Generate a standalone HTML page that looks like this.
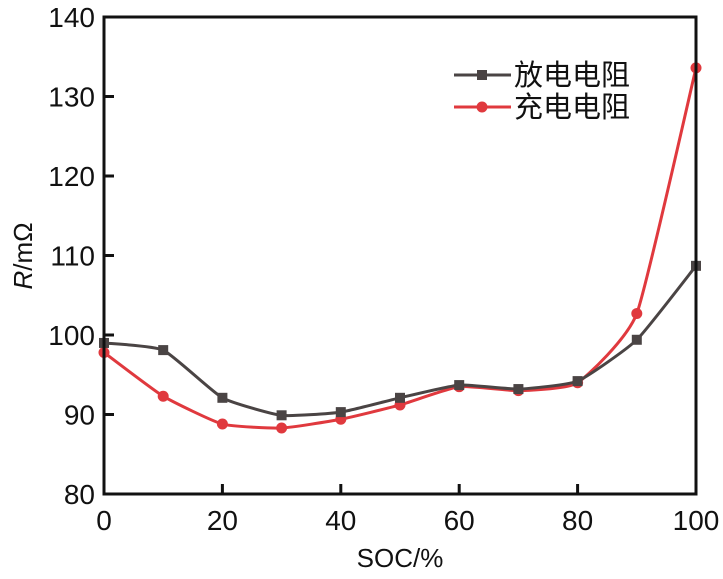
<!DOCTYPE html>
<html><head><meta charset="utf-8"><style>
body{margin:0;background:#fff}
svg text{font-family:"Liberation Sans",sans-serif}
</style></head><body>
<svg id="c" width="723" height="574" xmlns="http://www.w3.org/2000/svg"></svg>
<script>
const categories=[0,10,20,30,40,50,60,70,80,90,100];
const dischargeValues=[99,98.1,92.1,89.9,90.3,92.1,93.7,93.2,94.2,99.4,108.7];
const chargeValues=[97.8,92.3,88.8,88.3,89.4,91.2,93.5,93.0,94.0,102.7,133.6];
const xTicks=[0,20,40,60,80,100];
const yTicks=[80,90,100,110,120,130,140];
const L=104,R=696,T=17,B=494;
const xs=v=>L+(v-0)/100*(R-L);
const ys=v=>B-(v-80)/60*(B-T);
const svg=document.getElementById('c');
const NS='http://www.w3.org/2000/svg';
function mk(t,a,p){const e=document.createElementNS(NS,t);for(const k in a)e.setAttribute(k,a[k]);(p||svg).appendChild(e);return e;}
function path(pts){let d=`M${pts[0][0]},${pts[0][1]}`;for(let i=0;i<pts.length-1;i++){const p0=pts[Math.max(0,i-1)],p1=pts[i],p2=pts[i+1],p3=pts[Math.min(pts.length-1,i+2)];const t=0.08;d+=` C${p1[0]+(p2[0]-p0[0])*t},${p1[1]+(p2[1]-p0[1])*t} ${p2[0]-(p3[0]-p1[0])*t},${p2[1]-(p3[1]-p1[1])*t} ${p2[0]},${p2[1]}`;}return d;}
function series(vals,color,marker,name){
const g=mk('g',{});


const pts=categories.map((c,i)=>[xs(c),ys(vals[i])]);
const ln=mk('path',{d:path(pts),fill:'none',stroke:color,'stroke-width':3},g);


pts.forEach(p=>{let m;if(marker==='sq')m=mk('rect',{x:p[0]-5,y:p[1]-5,width:10,height:10,fill:color},g);else m=mk('circle',{cx:p[0],cy:p[1],r:5.5,fill:color},g);

});
}
series(chargeValues,'#e0393e','ci','charge-series');
series(dischargeValues,'#4a4444','sq','discharge-series');
const fr=mk('rect',{x:L,y:T,width:R-L,height:B-T,fill:'none',stroke:'#111','stroke-width':3});


xTicks.forEach(v=>{mk('line',{x1:xs(v),x2:xs(v),y1:B,y2:B-10,stroke:'#111','stroke-width':3});
const t=mk('text',{x:xs(v),y:530,'font-size':28,'text-anchor':'middle',fill:'#111'});t.textContent=v;

});
yTicks.forEach(v=>{mk('line',{x1:L,x2:L+10,y1:ys(v),y2:ys(v),stroke:'#111','stroke-width':3});
const t=mk('text',{x:95,y:ys(v)+10,'font-size':28,'text-anchor':'end',fill:'#111'});t.textContent=v;

});
const xt=mk('text',{x:400,y:567,'font-size':26,'text-anchor':'middle',fill:'#111'});xt.textContent='SOC/%';


const yt=mk('text',{x:0,y:0,'font-size':26,'text-anchor':'middle',fill:'#111',transform:'translate(32,256) rotate(-90)'});
yt.innerHTML='<tspan font-style="italic">R</tspan>/mΩ';


function leg(y,color,marker,label,name){const g=mk('g',{});


mk('line',{x1:454,x2:511,y1:y,y2:y,stroke:color,'stroke-width':3},g);
if(marker==='sq')mk('rect',{x:477,y:y-5,width:10,height:10,fill:color},g);else mk('circle',{cx:482,cy:y,r:5.5,fill:color},g);
const t=mk('text',{x:514,y:y+10,'font-size':29,fill:'#111','font-family':'"Noto Serif CJK SC","Liberation Serif",serif'},g);t.textContent=label;}
leg(75,'#4a4444','sq','放电电阻','legend-discharge');
leg(107,'#e0393e','ci','充电电阻','legend-charge');
</script>
</body></html>
